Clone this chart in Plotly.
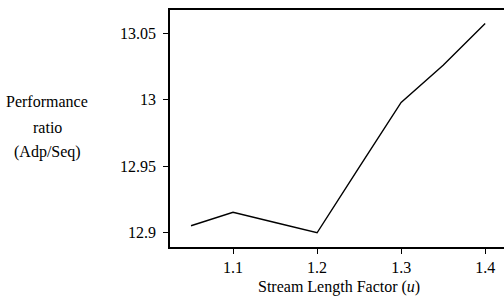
import plotly.graph_objects as go

stream_length_factor = [1.05, 1.1, 1.15, 1.2, 1.25, 1.3, 1.35, 1.4]
performance_ratio = [12.905, 12.9152, 12.9075, 12.8997, 12.949, 12.998, 13.026, 13.0575]
x_tick_vals = [1.1, 1.2, 1.3, 1.4]
x_tick_text = ["1.1", "1.2", "1.3", "1.4"]
y_tick_vals = [12.9, 12.95, 13.0, 13.05]
y_tick_text = ["12.9", "12.95", "13", "13.05"]
y_title_lines = ["Performance", "ratio", "(Adp/Seq)"]
x_title = "Stream Length Factor (<i>u</i>)"

serif = "Liberation Serif, Times New Roman, serif"

fig = go.Figure()
fig.add_trace(go.Scatter(
    x=stream_length_factor, y=performance_ratio, mode="lines",
    line=dict(color="black", width=1.4), showlegend=False, hoverinfo="skip"))

annotations = []
for text, yp in zip(y_title_lines, [0.612, 0.506, 0.399]):
    annotations.append(dict(text=text, xref="paper", yref="paper", x=-0.367, y=yp,
                            xanchor="center", yanchor="middle", showarrow=False,
                            font=dict(family=serif, size=16)))
annotations.append(dict(text=x_title, xref="paper", yref="paper", x=0.507, y=-0.170,
                        xanchor="center", yanchor="middle", showarrow=False,
                        font=dict(family=serif, size=16)))

fig.update_layout(
    width=504, height=298,
    margin=dict(l=170, r=0, t=10, b=51, autoexpand=False),
    paper_bgcolor="white", plot_bgcolor="white",
    font=dict(family=serif, color="black", size=16),
    xaxis=dict(range=[1.025, 1.4224], tickvals=x_tick_vals, ticktext=x_tick_text,
               showgrid=False, zeroline=False, showline=True, linecolor="black",
               linewidth=1.5, mirror=True, ticks="outside", ticklen=5, tickwidth=1.2,
               tickcolor="black", tickfont=dict(family=serif, size=16), automargin=False),
    yaxis=dict(range=[12.889, 13.0676], tickvals=y_tick_vals, ticktext=y_tick_text,
               showgrid=False, zeroline=False, showline=True, linecolor="black",
               linewidth=1.5, ticks="outside", ticklen=5, tickwidth=1.2,
               ticklabelstandoff=4,
               tickcolor="black", tickfont=dict(family=serif, size=16), automargin=False),
    annotations=annotations,
)

fig.write_html("out.html",
               config={"displayModeBar": False},
               post_script="document.body.style.margin='0';document.body.style.overflow='hidden';")
